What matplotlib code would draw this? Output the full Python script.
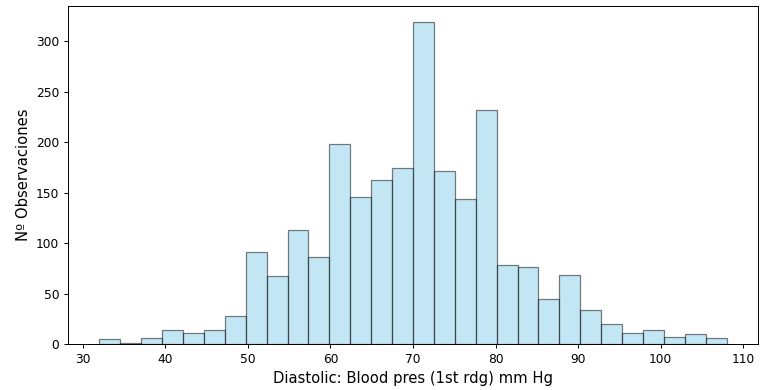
import numpy as np
import matplotlib
matplotlib.use("Agg")
from matplotlib import pyplot as plt

# bin range (30 bins, 32 -> 108 mm Hg)
bin_min = 32
bin_max = 108
n_bins = 30

# counts per bin
counts = [5, 1, 6, 14, 11, 14, 28, 91, 67, 113,
          86, 198, 146, 163, 174, 319, 171, 144, 232, 78,
          76, 45, 68, 34, 20, 11, 14, 7, 10, 6]

edges = np.linspace(bin_min, bin_max, n_bins + 1)
centers = (edges[:-1] + edges[1:]) / 2

# the reference looks like a notebook render at ~1.23x, so scale fonts/lines
s = 1.23
fig = plt.figure(figsize=(760 / 72, 390 / 72), dpi=72)
ax = fig.add_axes([68 / 760, 46 / 390, 690 / 760, 338 / 390])

ax.hist(centers, bins=edges, weights=counts, color="skyblue",
        edgecolor="black", alpha=0.5, linewidth=1.0 * s)

ax.set_xlabel("Diastolic: Blood pres (1st rdg) mm Hg", fontsize=12 * s, labelpad=4 * s)
ax.set_ylabel("Nº Observaciones", fontsize=12 * s, labelpad=4 * s)
ax.tick_params(labelsize=10 * s, length=3.5 * s, width=0.8 * s, pad=3.5 * s)
for sp in ax.spines.values():
    sp.set_linewidth(0.8 * s)

fig.savefig("out.png", dpi=72)
